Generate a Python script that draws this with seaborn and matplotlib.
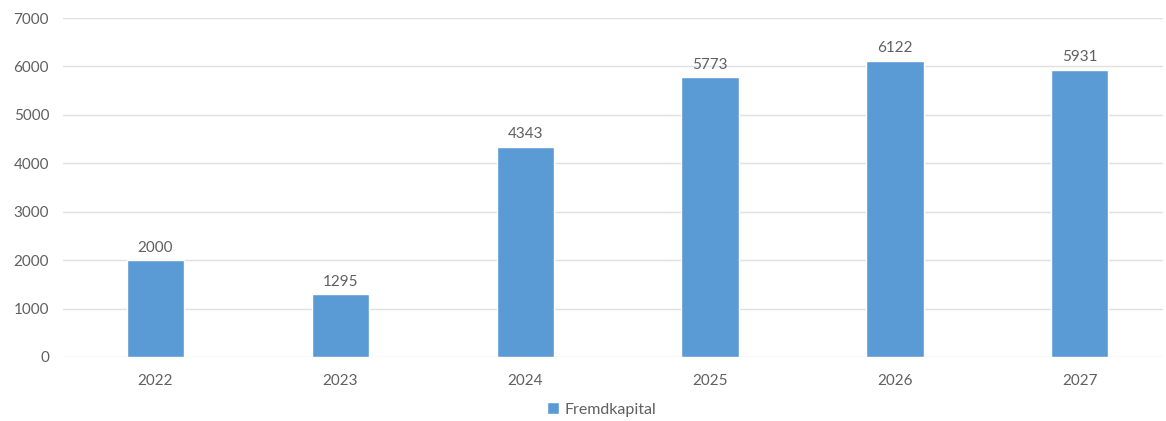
import matplotlib
matplotlib.use("Agg")
import matplotlib.pyplot as plt
import seaborn as sns
import pandas as pd

# Data
years = ["2022", "2023", "2024", "2025", "2026", "2027"]
fremdkapital = [2000, 1295, 4343, 5773, 6122, 5931]

df = pd.DataFrame({"Jahr": years, "Fremdkapital": fremdkapital})

sns.set_style("white")
plt.rcParams['font.family'] = ['Lato', 'DejaVu Sans']

bar_color = "#5B9BD5"
text_color = "#606060"

fig = plt.figure(figsize=(11.66, 4.21), dpi=100)
ax = fig.add_axes([63 / 1166, 1 - 357 / 421, 1100 / 1166, (357 - 18) / 421])

sns.barplot(data=df, x="Jahr", y="Fremdkapital", color=bar_color,
            width=0.31, saturation=1, ax=ax, label="Fremdkapital")

# value labels
for i, v in enumerate(fremdkapital):
    ax.text(i, v + 110, str(v), ha="center", va="bottom",
            fontsize=11, color=text_color)

ax.set_ylim(0, 7000)
ax.set_xlim(-0.5, 5.45)
ax.set_yticks(range(0, 7001, 1000))
ax.yaxis.grid(True, color="#E0E0E0", linewidth=1)
ax.set_axisbelow(True)
for s in ax.spines.values():
    s.set_visible(False)
ax.tick_params(axis="both", length=0, labelsize=11, colors=text_color, pad=10)
ax.tick_params(axis="x", pad=12)
ax.set_xlabel("")
ax.set_ylabel("")

ax.legend(loc="center", bbox_to_anchor=(0.49, -0.155), frameon=False,
          fontsize=11.5, labelcolor=text_color, handlelength=0.7,
          handleheight=0.7, handletextpad=0.4)

fig.savefig("out.png", dpi=100)
